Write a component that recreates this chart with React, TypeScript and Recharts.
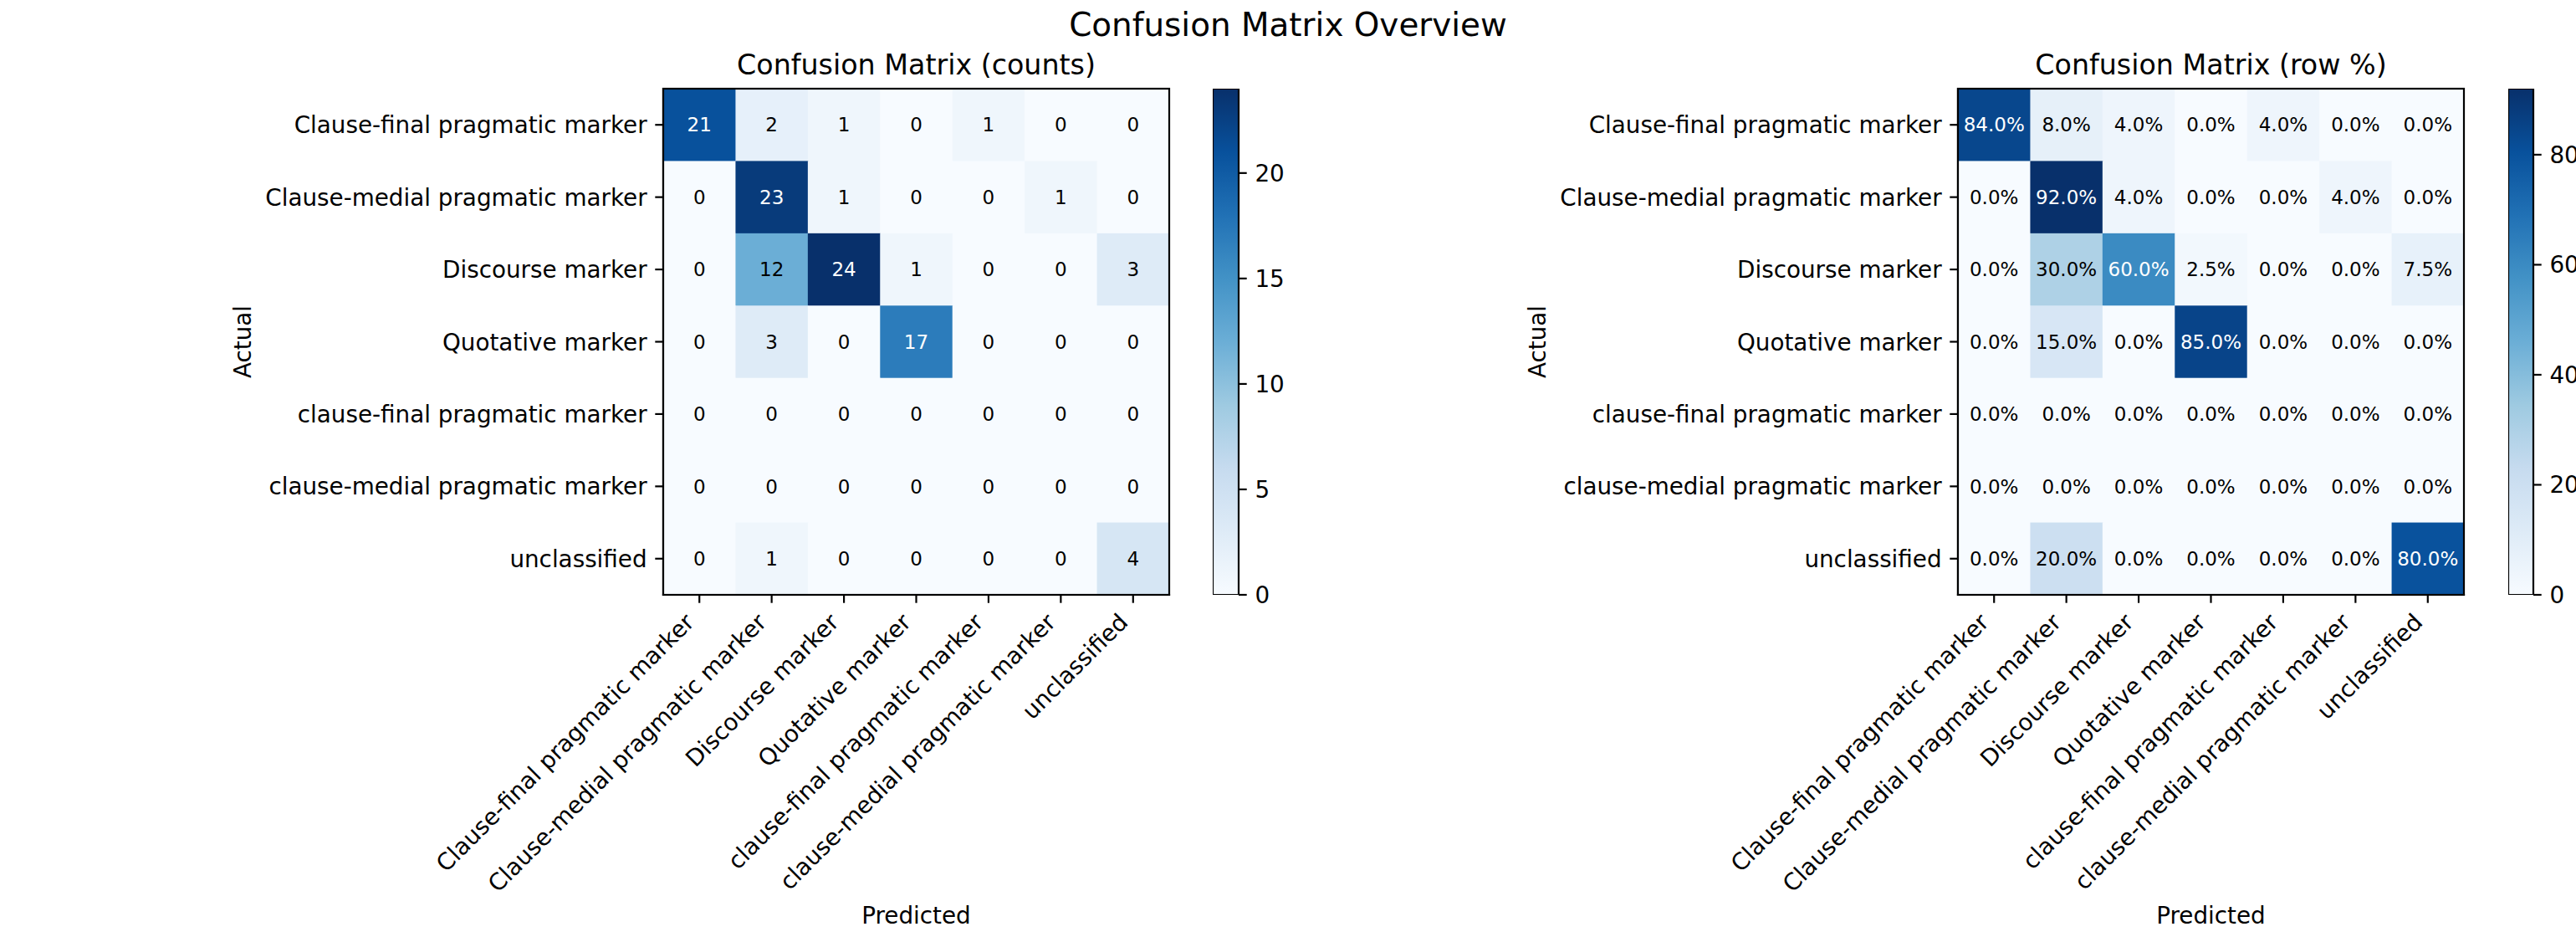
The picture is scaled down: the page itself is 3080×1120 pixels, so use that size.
import { ScatterChart, Scatter, BarChart, Bar, XAxis, YAxis } from "recharts";

// ─── data ─────────────────────────────────────────────────────────────────────

const classLabels = [
  "Clause-final pragmatic marker",
  "Clause-medial pragmatic marker",
  "Discourse marker",
  "Quotative marker",
  "clause-final pragmatic marker",
  "clause-medial pragmatic marker",
  "unclassified",
];

// rows = actual, columns = predicted
const counts = [
  [21, 2, 1, 0, 1, 0, 0],
  [0, 23, 1, 0, 0, 1, 0],
  [0, 12, 24, 1, 0, 0, 3],
  [0, 3, 0, 17, 0, 0, 0],
  [0, 0, 0, 0, 0, 0, 0],
  [0, 0, 0, 0, 0, 0, 0],
  [0, 1, 0, 0, 0, 0, 4],
];

const rowPct = [
  [84, 8, 4, 0, 4, 0, 0],
  [0, 92, 4, 0, 0, 4, 0],
  [0, 30, 60, 2.5, 0, 0, 7.5],
  [0, 15, 0, 85, 0, 0, 0],
  [0, 0, 0, 0, 0, 0, 0],
  [0, 0, 0, 0, 0, 0, 0],
  [0, 20, 0, 0, 0, 0, 80],
];

const countTicks = [0, 5, 10, 15, 20];
const pctTicks = [0, 20, 40, 60, 80];

// matplotlib "Blues"
const BLUES = ["#f7fbff", "#deebf7", "#c6dbef", "#9ecae1", "#6baed6", "#4292c6", "#2171b5", "#08519c", "#08306b"];

// ─── layout ───────────────────────────────────────────────────────────────────

const FONT = "'DejaVu Sans', sans-serif";
const FIG_W = 3080;
const FIG_H = 1120;
const PANEL_W = 1540;
const PLOT_TOP = 106;
const PLOT_BOTTOM = 711;
const PLOT_SIZE = PLOT_BOTTOM - PLOT_TOP;
const Y_AXIS_W = 600;
const X_AXIS_H = 30;
const TICK = 9.7;
const LW = 2.2;
const TICK_FS = 27.8;
const CELL_FS = 23;

function hexToRgb(h: string) {
  const n = parseInt(h.slice(1), 16);
  return [(n >> 16) & 255, (n >> 8) & 255, n & 255];
}

function blues(t: number) {
  const s = Math.min(1, Math.max(0, t)) * (BLUES.length - 1);
  const i = Math.min(BLUES.length - 2, Math.floor(s));
  const f = s - i;
  const a = hexToRgb(BLUES[i]);
  const b = hexToRgb(BLUES[i + 1]);
  const c = a.map((v, k) => Math.round(v + (b[k] - v) * f));
  return `rgb(${c[0]},${c[1]},${c[2]})`;
}

const idx = classLabels.map((_, i) => i);
const DOMAIN: [number, number] = [-0.5, classLabels.length - 0.5];

function XTick(props: any) {
  const { x, y, payload } = props;
  const ax = x - 4.6;
  const ay = y + 15;
  return (
    <text x={ax} y={ay} transform={`rotate(-45 ${ax} ${ay})`} textAnchor="end" fontSize={TICK_FS} fontFamily={FONT} fill="#000">
      {classLabels[payload.value]}
    </text>
  );
}

function YTick(props: any) {
  const { x, y, payload } = props;
  return (
    <text x={x} y={y} dy="0.36em" textAnchor="end" fontSize={TICK_FS} fontFamily={FONT} fill="#000">
      {classLabels[payload.value]}
    </text>
  );
}

function CbTick(props: any) {
  const { x, y, payload } = props;
  return (
    <text x={x} y={y} dy="0.36em" textAnchor="start" fontSize={TICK_FS} fontFamily={FONT} fill="#000">
      {payload.value}
    </text>
  );
}

function makeCell(vmax: number, fmt: (v: number) => string) {
  const cell = PLOT_SIZE / classLabels.length;
  return function HeatCell(props: any) {
    const { cx, cy, payload } = props;
    const v = payload.v as number;
    return (
      <g>
        <rect x={cx - cell / 2} y={cy - cell / 2} width={cell + 0.6} height={cell + 0.6} fill={blues(v / vmax)} />
        <text x={cx} y={cy} dy="0.36em" textAnchor="middle" fontSize={CELL_FS} fontFamily={FONT} fill={v > vmax / 2 ? "#fff" : "#000"}>
          {fmt(v)}
        </text>
      </g>
    );
  };
}

// ─── heatmap panel ────────────────────────────────────────────────────────────

function Heatmap({ left, plotLeft, values, fmt }: { left: number; plotLeft: number; values: number[][]; fmt: (v: number) => string }) {
  const vmax = Math.max(...values.flat());
  const cells = values.flatMap((row, r) => row.map((v, c) => ({ x: c, y: r, v })));
  const localLeft = plotLeft - left;
  const axisLine = { stroke: "#000", strokeWidth: LW, strokeLinecap: "square" as const };
  return (
    <div style={{ position: "absolute", left, top: 0 }}>
      <ScatterChart
        width={PANEL_W}
        height={FIG_H}
        margin={{
          top: PLOT_TOP,
          left: localLeft - Y_AXIS_W,
          right: PANEL_W - localLeft - PLOT_SIZE,
          bottom: FIG_H - PLOT_BOTTOM - X_AXIS_H,
        }}
      >
        <Scatter data={cells} dataKey="v" shape={makeCell(vmax, fmt)} isAnimationActive={false} />
        <XAxis
          type="number"
          dataKey="x"
          domain={DOMAIN}
          ticks={idx}
          interval={0}
          allowDataOverflow
          height={X_AXIS_H}
          tickSize={TICK}
          tickMargin={TICK}
          tick={<XTick />}
          tickLine={{ stroke: "#000", strokeWidth: LW }}
          axisLine={axisLine}
        />
        <YAxis
          type="number"
          dataKey="y"
          domain={DOMAIN}
          reversed
          ticks={idx}
          interval={0}
          allowDataOverflow
          width={Y_AXIS_W}
          tickSize={TICK}
          tickMargin={TICK}
          tick={<YTick />}
          tickLine={{ stroke: "#000", strokeWidth: LW }}
          axisLine={axisLine}
        />
      </ScatterChart>
    </div>
  );
}

// ─── colorbar ─────────────────────────────────────────────────────────────────

function Colorbar({ left, width, values, ticks, gradId }: { left: number; width: number; values: number[][]; ticks: number[]; gradId: string }) {
  const vmax = Math.max(...values.flat());
  const data = [{ name: "cb", range: [0, vmax] }];
  const axisW = 110;
  return (
    <div style={{ position: "absolute", left, top: 0 }}>
      <BarChart
        width={width + axisW}
        height={FIG_H}
        data={data}
        barCategoryGap={0}
        margin={{ top: PLOT_TOP, bottom: FIG_H - PLOT_BOTTOM, left: 0, right: 0 }}
      >
        <defs>
          <linearGradient id={gradId} x1="0" y1="1" x2="0" y2="0">
            {BLUES.map((c, i) => (
              <stop key={c} offset={`${(i / (BLUES.length - 1)) * 100}%`} stopColor={c} />
            ))}
          </linearGradient>
        </defs>
        <XAxis dataKey="name" hide />
        <YAxis
          orientation="right"
          type="number"
          domain={[0, vmax]}
          allowDataOverflow
          ticks={ticks}
          interval={0}
          width={axisW}
          tickSize={TICK}
          tickMargin={TICK}
          tick={<CbTick />}
          tickLine={{ stroke: "#000", strokeWidth: LW }}
          axisLine={false}
        />
        <Bar dataKey="range" fill={`url(#${gradId})`} stroke="#000" strokeWidth={LW} isAnimationActive={false} />
      </BarChart>
    </div>
  );
}

// ─── figure ───────────────────────────────────────────────────────────────────

const LEFT_PLOT = 793;
const RIGHT_PLOT = 2341;

export default function App() {
  const lc = LEFT_PLOT + PLOT_SIZE / 2;
  const rc = RIGHT_PLOT + PLOT_SIZE / 2;
  const mid = (PLOT_TOP + PLOT_BOTTOM) / 2;
  return (
    <div style={{ position: "absolute", left: 0, top: 0, width: FIG_W, height: FIG_H, background: "#fff", overflow: "hidden" }}>
      <Heatmap left={0} plotLeft={LEFT_PLOT} values={counts} fmt={(v) => String(v)} />
      <Heatmap left={PANEL_W} plotLeft={RIGHT_PLOT} values={rowPct} fmt={(v) => `${v.toFixed(1)}%`} />
      <Colorbar left={1450} width={31} values={counts} ticks={countTicks} gradId="cbCounts" />
      <Colorbar left={2999} width={30} values={rowPct} ticks={pctTicks} gradId="cbPct" />
      <svg width={FIG_W} height={FIG_H} style={{ position: "absolute", left: 0, top: 0, pointerEvents: "none" }} fontFamily={FONT}>
        {/* axes frames (spines) */}
        <rect x={LEFT_PLOT} y={PLOT_TOP} width={PLOT_SIZE} height={PLOT_SIZE} fill="none" stroke="#000" strokeWidth={LW} />
        <rect x={RIGHT_PLOT} y={PLOT_TOP} width={PLOT_SIZE} height={PLOT_SIZE} fill="none" stroke="#000" strokeWidth={LW} />
        <text x={FIG_W / 2} y={43} textAnchor="middle" fontSize={38.9} fill="#000">Confusion Matrix Overview</text>
        <text x={lc} y={89} textAnchor="middle" fontSize={33.3} fill="#000">Confusion Matrix (counts)</text>
        <text x={rc} y={89} textAnchor="middle" fontSize={33.3} fill="#000">Confusion Matrix (row %)</text>
        <text x={lc} y={1104} textAnchor="middle" fontSize={TICK_FS} fill="#000">Predicted</text>
        <text x={rc} y={1104} textAnchor="middle" fontSize={TICK_FS} fill="#000">Predicted</text>
        <text transform={`translate(299.5 ${mid}) rotate(-90)`} textAnchor="middle" fontSize={TICK_FS} fill="#000">Actual</text>
        <text transform={`translate(1848 ${mid}) rotate(-90)`} textAnchor="middle" fontSize={TICK_FS} fill="#000">Actual</text>
      </svg>
    </div>
  );
}
